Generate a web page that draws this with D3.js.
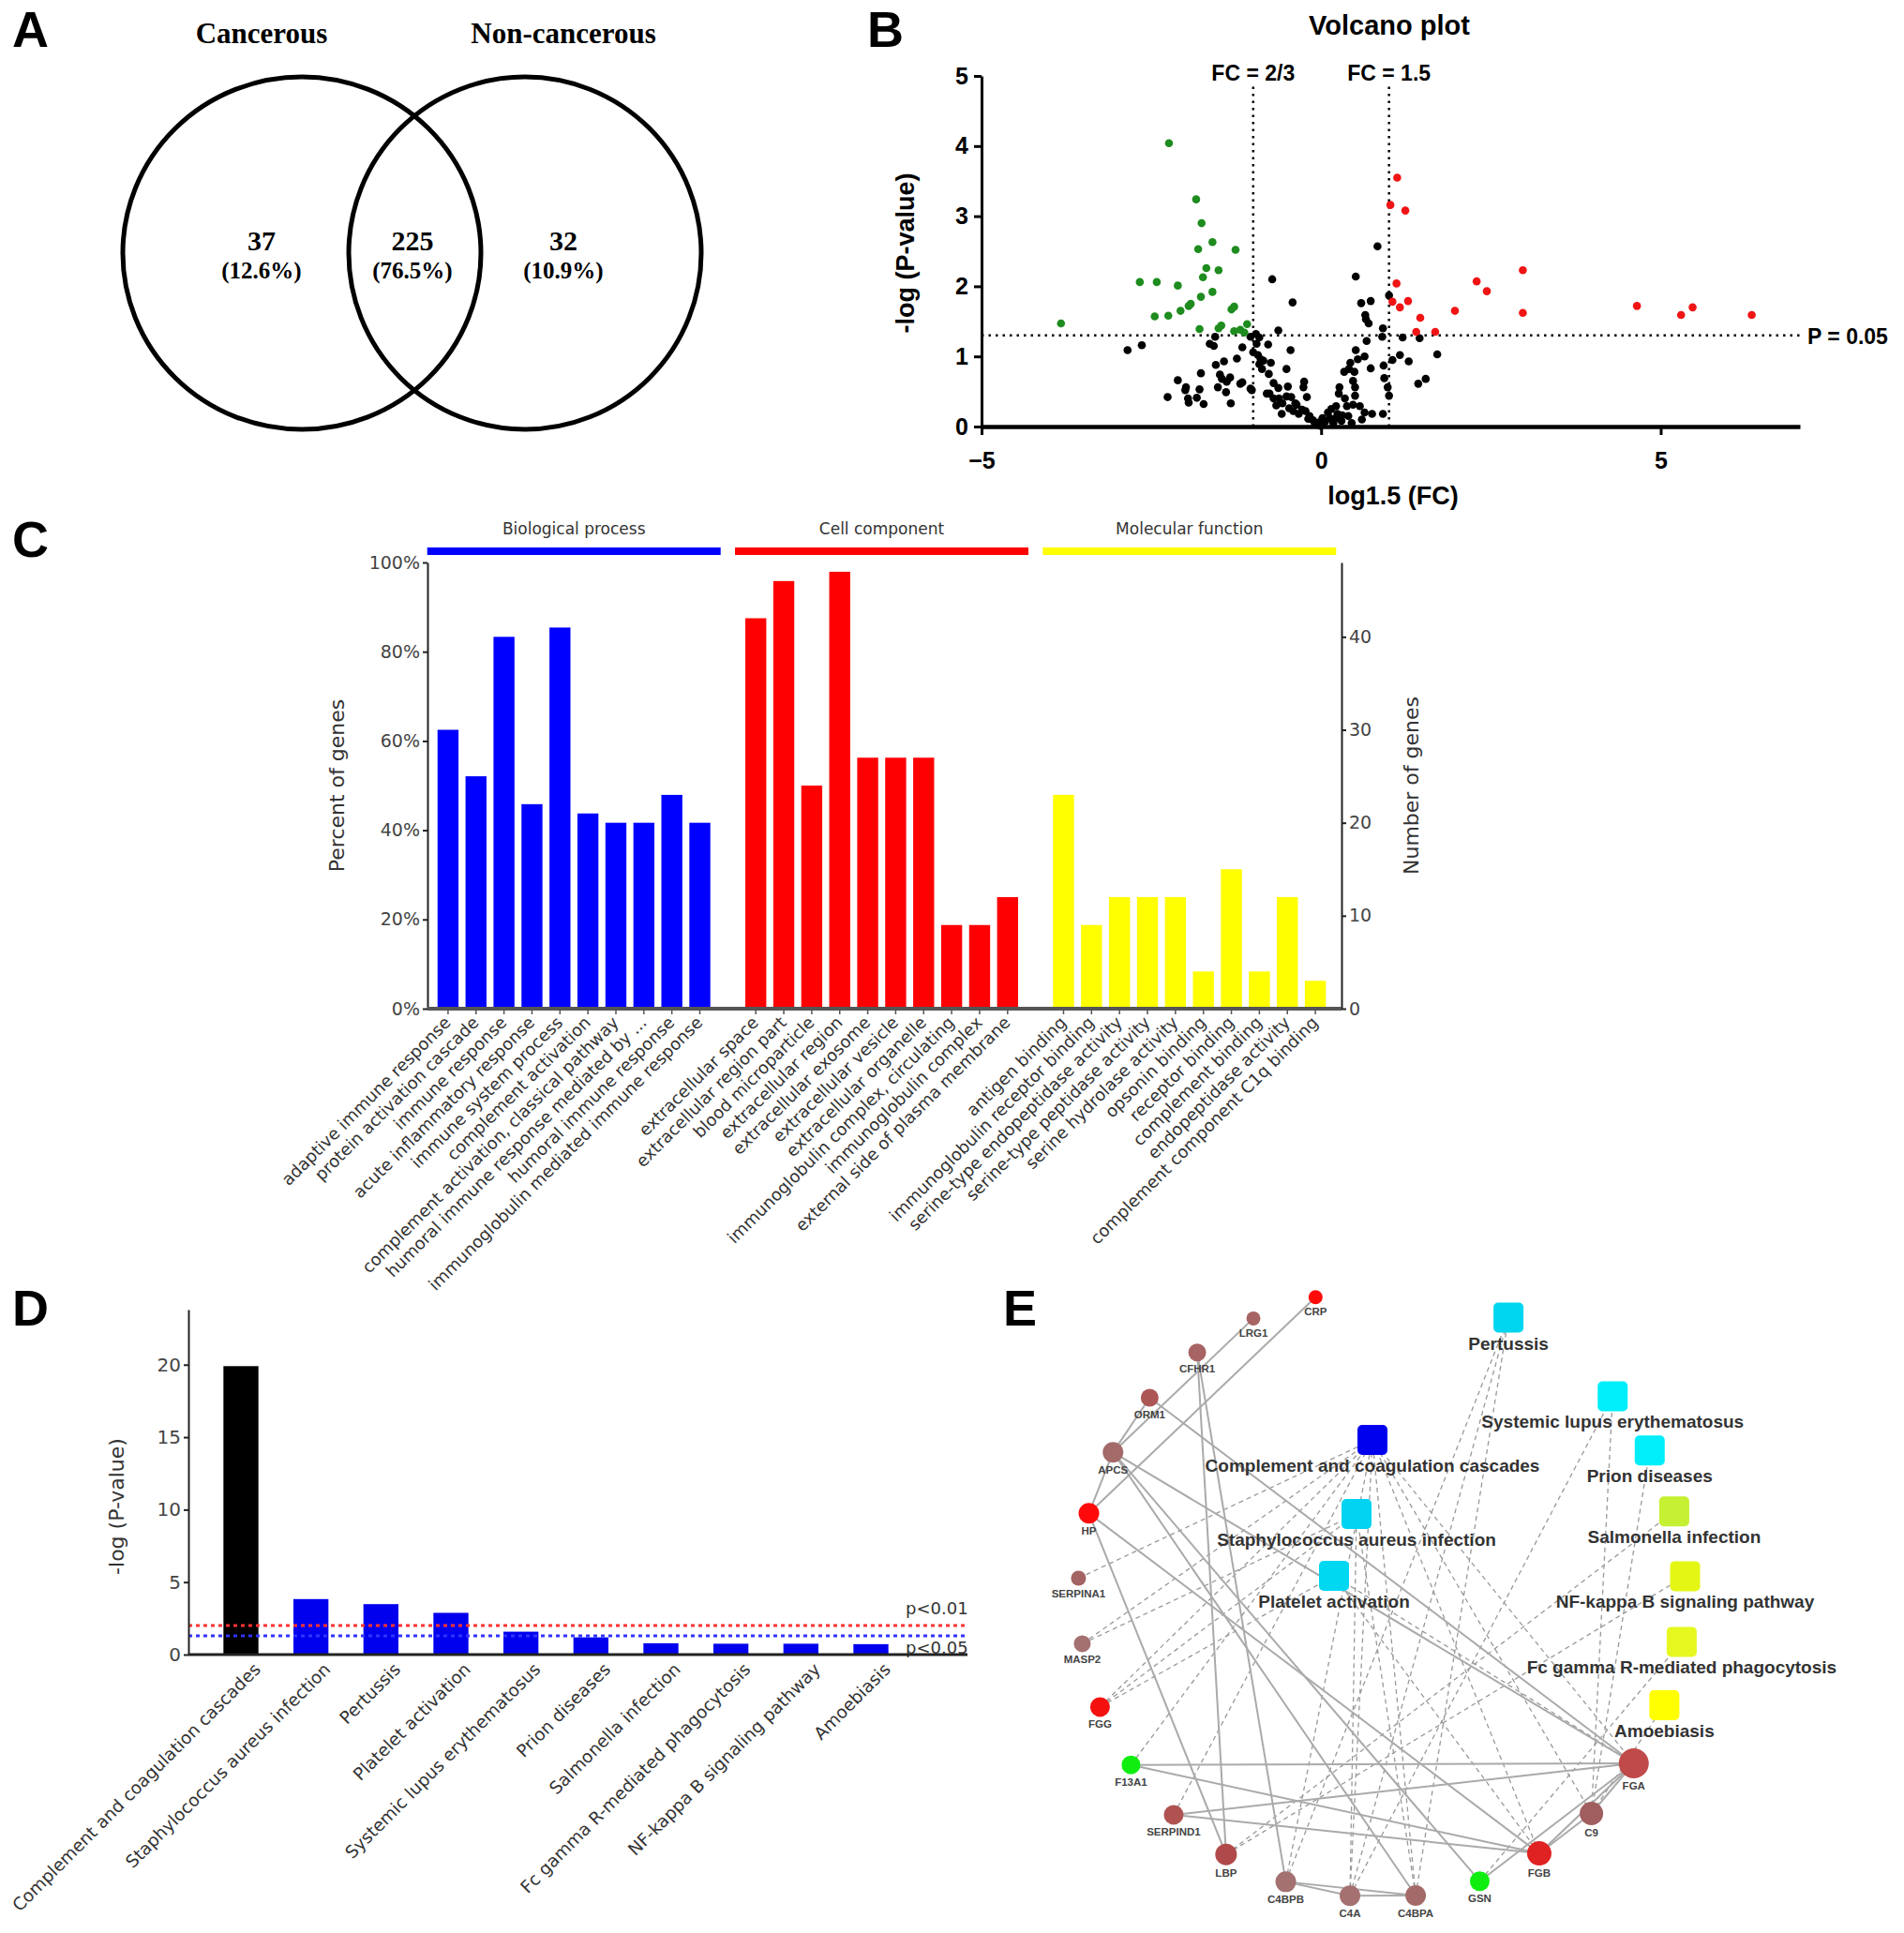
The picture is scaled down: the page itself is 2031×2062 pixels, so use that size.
<!DOCTYPE html>
<html>
<head>
<meta charset="utf-8">
<script src="https://cdn.jsdelivr.net/npm/d3@7/dist/d3.min.js"></script>
<style>
  body { margin: 0; background: #fff; }
  svg { display: block; }
</style>
</head>
<body>
<svg id="fig" width="2031" height="2062"></svg>
<script>
// ---------- data ----------
const vennSets = ['Cancerous', 'Non-cancerous']
const vennCounts = [37, 225, 32]
const vennPercents = ['(12.6%)', '(76.5%)', '(10.9%)']

// volcano plot points [log1.5(FC), -log(P)]
const volcanoDown = [[-2.24, 4.04], [-3.83, 1.47], [-1.84, 3.24], [-1.76, 2.90], [-1.60, 2.63], [-1.81, 2.53],
  [-1.26, 2.52], [-1.69, 2.26], [-1.51, 2.23], [-1.74, 2.13], [-2.67, 2.06], [-2.42, 2.06], [-2.11, 2.01],
  [-1.60, 1.92], [-1.77, 1.85], [-1.92, 1.75], [-1.95, 1.72], [-2.07, 1.65], [-2.25, 1.58], [-2.45, 1.57],
  [-1.28, 1.71], [-1.32, 1.67], [-1.79, 1.39], [-1.51, 1.40], [-1.47, 1.44], [-1.28, 1.36], [-1.19, 1.38],
  [-1.09, 1.46], [-1.13, 1.34]]
const volcanoUp = [[1.12, 3.55], [1.02, 3.16], [1.24, 3.08], [2.97, 2.23], [2.29, 2.07], [2.44, 1.93], [1.11, 2.04],
  [1.05, 1.78], [1.16, 1.70], [1.28, 1.79], [1.46, 1.55], [1.40, 1.35], [1.68, 1.35], [1.97, 1.65], [2.97, 1.62],
  [4.65, 1.72], [5.47, 1.70], [5.30, 1.59], [6.34, 1.59]]
const volcanoOther = [[-0.72, 2.10], [-0.42, 1.77], [-0.63, 1.37], [-2.85, 1.09], [-2.64, 1.16], [-1.56, 1.28],
  [-1.64, 1.18], [-1.58, 1.15], [-0.96, 1.32], [-0.91, 1.27], [-0.78, 1.17], [-1.16, 1.13], [-1.00, 1.06],
  [-0.93, 1.02], [-0.89, 0.96], [-0.91, 0.89], [-0.87, 0.82], [-0.74, 0.91], [-0.45, 1.09], [-0.51, 0.82],
  [-1.24, 0.97], [-1.43, 0.93], [-1.55, 0.88], [-1.77, 0.76], [-1.49, 0.74], [-1.46, 0.68], [-1.39, 0.64],
  [-2.11, 0.66], [-1.52, 0.56], [-1.19, 0.61], [-1.02, 0.52], [-2.00, 0.52], [-1.79, 0.53], [-1.40, 0.49],
  [-2.26, 0.42], [-1.96, 0.40], [-1.83, 0.41], [-1.95, 0.34], [-1.73, 0.32], [-1.33, 0.33], [-0.80, 0.47],
  [-0.76, 0.47], [-0.63, 0.55], [-0.49, 0.57], [-0.25, 0.64], [-0.26, 0.56], [-0.62, 0.40], [-0.51, 0.43],
  [-0.44, 0.42], [-0.66, 0.30], [-0.57, 0.33], [-0.38, 0.33], [-0.47, 0.26], [-0.36, 0.31], [-0.28, 0.24],
  [-0.21, 0.42], [-0.23, 0.22], [-0.17, 0.15], [-0.12, 0.09], [-0.09, 0.03], [-0.03, 0.06], [-0.19, 0.11],
  [-0.33, 0.18], [-0.41, 0.22], [-1.04, 1.28], [-0.95, 1.18], [-0.85, 0.94], [-0.77, 0.75], [-1.99, 0.56],
  [-1.34, 0.70], [-1.16, 0.63], [-1.04, 0.54], [-0.70, 0.40], [-0.58, 0.18], [-0.70, 0.62],
  [0.83, 2.57], [0.51, 2.14], [1.00, 1.87], [0.59, 1.76], [0.73, 1.79], [0.65, 1.59], [0.66, 1.53], [0.70, 1.47],
  [0.91, 1.40], [0.90, 1.28], [1.20, 1.27], [1.45, 1.26], [0.67, 1.22], [1.71, 1.03], [1.16, 1.02], [1.29, 0.93],
  [1.05, 0.95], [0.51, 1.09], [0.64, 1.00], [0.54, 0.96], [0.43, 0.91], [0.41, 0.82], [0.49, 0.78], [0.73, 0.83],
  [0.34, 0.78], [0.92, 0.87], [0.93, 0.69], [1.54, 0.68], [1.43, 0.61], [0.47, 0.65], [0.50, 0.56], [0.27, 0.56],
  [0.26, 0.47], [0.98, 0.56], [1.00, 0.44], [0.50, 0.44], [0.47, 0.31], [0.38, 0.29], [0.57, 0.29], [0.64, 0.20],
  [0.75, 0.18], [0.91, 0.18], [0.22, 0.29], [0.15, 0.25], [0.24, 0.18], [0.13, 0.12], [0.06, 0.07], [-0.01, 0.01],
  [-0.05, 0.05], [0.22, 0.12], [0.31, 0.16], [0.10, 0.20], [0.18, 0.05], [0.30, 0.08], [0.40, 0.15], [0.02, 0.12],
  [0.35, 0.40], [0.60, 0.10], [0.45, 0.05]]
const pThreshold = 1.3
const fcThresholds = [-1, 1]
const fcLabels = ['FC = 2/3', 'FC = 1.5']

// GO enrichment (number of genes, 48 = 100%)
const goGroups = ['Biological process', 'Cell component', 'Molecular function']
const goTerms = [
  ['adaptive immune response', 'protein activation cascade', 'immune response', 'acute inflammatory response',
    'immune system process', 'complement activation', 'complement activation, classical pathway',
    'humoral immune response mediated by ...', 'humoral immune response', 'immunoglobulin mediated immune response'],
  ['extracellular space', 'extracellular region part', 'blood microparticle', 'extracellular region',
    'extracellular exosome', 'extracellular vesicle', 'extracellular organelle',
    'immunoglobulin complex, circulating', 'immunoglobulin complex', 'external side of plasma membrane'],
  ['antigen binding', 'immunoglobulin receptor binding', 'serine-type endopeptidase activity',
    'serine-type peptidase activity', 'serine hydrolase activity', 'opsonin binding', 'receptor binding',
    'complement binding', 'endopeptidase activity', 'complement component C1q binding']
]
const goCounts = [
  [30, 25, 40, 22, 41, 21, 20, 20, 23, 20],
  [42, 46, 24, 47, 27, 27, 27, 9, 9, 12],
  [23, 9, 12, 12, 12, 4, 15, 4, 12, 3]
]
const goTotal = 48

// KEGG pathways
const keggPathways = ['Complement and coagulation cascades', 'Staphylococcus aureus infection', 'Pertussis',
  'Platelet activation', 'Systemic lupus erythematosus', 'Prion diseases', 'Salmonella infection',
  'Fc gamma R-mediated phagocytosis', 'NF-kappa B signaling pathway', 'Amoebiasis']
const keggLogP = [19.9, 3.83, 3.48, 2.88, 1.58, 1.19, 0.78, 0.75, 0.75, 0.72]
const keggCutoffs = [2, 1.3]
const keggCutoffLabels = ['p<0.01', 'p<0.05']

// network
const networkGenes = ['CRP', 'LRG1', 'CFHR1', 'ORM1', 'APCS', 'HP', 'SERPINA1', 'MASP2', 'FGG', 'F13A1',
  'SERPIND1', 'LBP', 'C4BPB', 'C4A', 'C4BPA', 'GSN', 'FGB', 'C9', 'FGA']
const networkRingPathways = ['Amoebiasis', 'Fc gamma R-mediated phagocytosis', 'NF-kappa B signaling pathway',
  'Salmonella infection', 'Prion diseases', 'Systemic lupus erythematosus', null, 'Pertussis', null, null]
const networkInnerPathways = ['Complement and coagulation cascades', 'Staphylococcus aureus infection',
  'Platelet activation']
const ppiEdges = [['CRP', 'HP'], ['LRG1', 'APCS'], ['ORM1', 'APCS'], ['APCS', 'HP'], ['CFHR1', 'LBP'],
  ['CFHR1', 'C4BPB'], ['HP', 'LBP'], ['HP', 'FGB'], ['APCS', 'C4BPA'], ['APCS', 'GSN'], ['APCS', 'FGA'],
  ['ORM1', 'FGA'], ['F13A1', 'FGA'], ['F13A1', 'FGB'], ['SERPIND1', 'FGA'], ['SERPIND1', 'FGB'], ['FGA', 'FGB'],
  ['FGA', 'C9'], ['FGB', 'C9'], ['FGA', 'GSN'], ['C4BPB', 'C4A'], ['C4A', 'C4BPA'], ['C4BPB', 'C4BPA']]
const pathwayEdges = [
  ['SERPINA1', 'Complement and coagulation cascades'], ['MASP2', 'Complement and coagulation cascades'],
  ['FGG', 'Complement and coagulation cascades'], ['F13A1', 'Complement and coagulation cascades'],
  ['SERPIND1', 'Complement and coagulation cascades'], ['C4BPB', 'Complement and coagulation cascades'],
  ['C4A', 'Complement and coagulation cascades'], ['C4BPA', 'Complement and coagulation cascades'],
  ['C9', 'Complement and coagulation cascades'], ['FGA', 'Complement and coagulation cascades'],
  ['FGB', 'Complement and coagulation cascades'],
  ['MASP2', 'Staphylococcus aureus infection'], ['FGG', 'Staphylococcus aureus infection'],
  ['C4A', 'Staphylococcus aureus infection'], ['C4BPA', 'Staphylococcus aureus infection'],
  ['FGG', 'Platelet activation'], ['FGA', 'Platelet activation'], ['FGB', 'Platelet activation'],
  ['C4BPB', 'Pertussis'], ['C4A', 'Pertussis'], ['C4BPA', 'Pertussis'],
  ['C4A', 'Systemic lupus erythematosus'], ['C9', 'Systemic lupus erythematosus'],
  ['C9', 'Prion diseases'], ['LBP', 'Salmonella infection'], ['LBP', 'NF-kappa B signaling pathway'],
  ['GSN', 'Fc gamma R-mediated phagocytosis'], ['C9', 'Amoebiasis']
]

// ---------- styles ----------
const boldSans = 'Liberation Sans, Arial, sans-serif'
const plotSans = 'DejaVu Sans, sans-serif'
const serif = 'Liberation Serif, Times New Roman, serif'

const geneStyle = {
  CRP: ['#ff0a0a', 7.5], LRG1: ['#a86464', 7.5], CFHR1: ['#a86464', 9.5], ORM1: ['#ad5656', 9.5],
  APCS: ['#a46a6a', 11], HP: ['#ff0a0a', 11], SERPINA1: ['#a46464', 8], MASP2: ['#a47070', 9],
  FGG: ['#f51010', 10.5], F13A1: ['#10ee10', 10], SERPIND1: ['#b05252', 10.5], LBP: ['#b04a4a', 11.5],
  C4BPB: ['#a47070', 11], C4A: ['#a47070', 11], C4BPA: ['#a46a6a', 11], GSN: ['#10ee10', 10.5],
  FGB: ['#e02222', 13], C9: ['#a05e5e', 12.5], FGA: ['#c04a4a', 16]
}
const pathwayColor = {
  'Complement and coagulation cascades': '#0000ee', 'Staphylococcus aureus infection': '#00d4f2',
  'Platelet activation': '#00d8f2', Pertussis: '#00d6f0', 'Systemic lupus erythematosus': '#00eefa',
  'Prion diseases': '#00eefa', 'Salmonella infection': '#c6f032', 'NF-kappa B signaling pathway': '#e4f614',
  'Fc gamma R-mediated phagocytosis': '#e6f820', Amoebiasis: '#ffff00'
}

const svg = d3.select('#fig')

/**
 * Draws the panel letters A to E.
 */
function drawPanelLetters () {
  const letters = [['A', 13, 50], ['B', 925, 50], ['C', 13, 594], ['D', 13, 1414], ['E', 1070, 1414]]
  svg.append('g').selectAll('text')
    .data(letters)
    .join('text')
    .attr('x', d => d[1]).attr('y', d => d[2])
    .attr('font-family', boldSans).attr('font-weight', 'bold').attr('font-size', 54)
    .text(d => d[0])
}

/**
 * Panel A : two-set Venn diagram.
 */
function drawVenn () {
  const g = svg.append('g')
  const circles = [{ cx: 322, rx: 191 }, { cx: 560, rx: 188 }]
  const textX = [279, 440, 601]

  g.selectAll('ellipse')
    .data(circles)
    .join('ellipse')
    .attr('cx', d => d.cx).attr('cy', 270)
    .attr('rx', d => d.rx).attr('ry', 188)
    .attr('fill', 'none').attr('stroke', '#000').attr('stroke-width', 5)

  g.selectAll('.set-title')
    .data(vennSets)
    .join('text')
    .attr('class', 'set-title')
    .attr('x', (d, i) => textX[i * 2]).attr('y', 46)
    .attr('text-anchor', 'middle')
    .attr('font-family', serif).attr('font-weight', 'bold').attr('font-size', 31)
    .text(d => d)

  g.selectAll('.count')
    .data(vennCounts)
    .join('text')
    .attr('class', 'count')
    .attr('x', (d, i) => textX[i]).attr('y', 267)
    .attr('text-anchor', 'middle')
    .attr('font-family', serif).attr('font-weight', 'bold').attr('font-size', 30)
    .text(d => d)

  g.selectAll('.percent')
    .data(vennPercents)
    .join('text')
    .attr('class', 'percent')
    .attr('x', (d, i) => textX[i]).attr('y', 297)
    .attr('text-anchor', 'middle')
    .attr('font-family', serif).attr('font-weight', 'bold').attr('font-size', 25)
    .text(d => d)
}

/**
 * Panel B : volcano plot.
 */
function drawVolcano () {
  const g = svg.append('g')
  const x = d3.scaleLinear().domain([-5, 7.05]).range([1047, 1920])
  const y = d3.scaleLinear().domain([0, 5]).range([455, 81])

  // Title and axis labels
  g.append('text').attr('x', 1482).attr('y', 37).attr('text-anchor', 'middle')
    .attr('font-family', boldSans).attr('font-weight', 'bold').attr('font-size', 29)
    .text('Volcano plot')
  g.append('text').attr('x', 1486).attr('y', 538).attr('text-anchor', 'middle')
    .attr('font-family', boldSans).attr('font-weight', 'bold').attr('font-size', 27)
    .text('log1.5 (FC)')
  g.append('text').attr('transform', 'translate(975,270) rotate(-90)').attr('text-anchor', 'middle')
    .attr('font-family', boldSans).attr('font-weight', 'bold').attr('font-size', 27)
    .text('-log (P-value)')

  // Threshold lines
  g.append('line')
    .attr('x1', x(-5)).attr('x2', x(7.05)).attr('y1', y(pThreshold)).attr('y2', y(pThreshold))
    .attr('stroke', '#000').attr('stroke-width', 2.5).attr('stroke-dasharray', '2.5,5')
  g.selectAll('.fc-line')
    .data(fcThresholds)
    .join('line')
    .attr('class', 'fc-line')
    .attr('x1', d => x(d)).attr('x2', d => x(d)).attr('y1', y(0)).attr('y2', y(4.9))
    .attr('stroke', '#000').attr('stroke-width', 2.5).attr('stroke-dasharray', '2.5,5')
  g.selectAll('.fc-label')
    .data(fcLabels)
    .join('text')
    .attr('class', 'fc-label')
    .attr('x', (d, i) => x(fcThresholds[i])).attr('y', 86)
    .attr('text-anchor', 'middle')
    .attr('font-family', boldSans).attr('font-weight', 'bold').attr('font-size', 23)
    .text(d => d)
  g.append('text').attr('x', 1928).attr('y', y(pThreshold) + 9)
    .attr('font-family', boldSans).attr('font-weight', 'bold').attr('font-size', 23)
    .text('P = 0.05')

  // Axes
  const xAxis = g.append('g').attr('transform', 'translate(0,455)')
    .call(d3.axisBottom(x).tickValues([-5, 0, 5]).tickSize(9).tickSizeOuter(0).tickPadding(18))
  xAxis.select('.domain').attr('stroke-width', 4.5)
  const yAxis = g.append('g').attr('transform', 'translate(' + x(-5) + ',0)')
    .call(d3.axisLeft(y).tickValues([0, 1, 2, 3, 4, 5]).tickFormat(d3.format('d'))
      .tickSize(8).tickSizeOuter(0).tickPadding(6))
  yAxis.select('.domain').attr('stroke-width', 3)
  g.selectAll('.tick line').attr('stroke-width', 3)
  g.selectAll('.tick text')
    .attr('font-family', boldSans).attr('font-weight', 'bold').attr('font-size', 25)

  // Points
  const groups = [[volcanoOther, '#000'], [volcanoDown, '#1e8c1e'], [volcanoUp, '#f01414']]
  groups.forEach(([points, color]) => {
    g.append('g').selectAll('circle')
      .data(points)
      .join('circle')
      .attr('cx', d => x(d[0])).attr('cy', d => y(d[1]))
      .attr('r', 4.3).attr('fill', color)
  })
}

/**
 * Panel C : GO term bar chart with percent and count axes.
 */
function drawGoBars () {
  const g = svg.append('g')
  const keys = []
  const bars = []
  goTerms.forEach((terms, gi) => {
    terms.forEach((t, ti) => {
      keys.push(t)
      bars.push({ term: t, group: gi, count: goCounts[gi][ti] })
    })
    if (gi < goTerms.length - 1) keys.push('gap' + gi)
  })
  const colors = ['#0000ff', '#ff0000', '#ffff00']

  const x = d3.scaleBand().domain(keys).range([463, 1418]).paddingInner(0.25).paddingOuter(0.125)
  const yCount = d3.scaleLinear().domain([0, goTotal]).range([1076, 600])
  const yPct = d3.scaleLinear().domain([0, 1]).range([1076, 600])

  // Group headers
  goGroups.forEach((name, gi) => {
    const first = x(goTerms[gi][0]) - 11
    const last = x(goTerms[gi][goTerms[gi].length - 1]) + x.bandwidth() + 11
    g.append('line').attr('x1', first).attr('x2', last).attr('y1', 588).attr('y2', 588)
      .attr('stroke', colors[gi]).attr('stroke-width', 8)
    g.append('text').attr('x', (first + last) / 2).attr('y', 570).attr('text-anchor', 'middle')
      .attr('font-family', plotSans).attr('font-size', 17).attr('fill', '#333')
      .text(name)
  })

  // Bars
  g.append('g').selectAll('rect')
    .data(bars)
    .join('rect')
    .attr('x', d => x(d.term)).attr('width', x.bandwidth())
    .attr('y', d => yCount(d.count)).attr('height', d => yCount(0) - yCount(d.count))
    .attr('fill', d => colors[d.group])

  // Axes
  const left = g.append('g').attr('transform', 'translate(456,0)')
    .call(d3.axisLeft(yPct).tickValues([0, 0.2, 0.4, 0.6, 0.8, 1]).tickFormat(d3.format('.0%'))
      .tickSize(5).tickSizeOuter(0).tickPadding(3))
  const right = g.append('g').attr('transform', 'translate(1431,0)')
    .call(d3.axisRight(yCount).tickValues([0, 10, 20, 30, 40]).tickSize(5).tickSizeOuter(0).tickPadding(3))
  ;[left, right].forEach(a => {
    a.select('.domain').attr('stroke', '#222').attr('stroke-width', 2)
    a.selectAll('.tick line').attr('stroke', '#222').attr('stroke-width', 2)
    a.selectAll('.tick text').attr('font-family', plotSans).attr('font-size', 19).attr('fill', '#444')
  })
  g.append('line').attr('x1', 456).attr('x2', 1431).attr('y1', 1076).attr('y2', 1076)
    .attr('stroke', '#555').attr('stroke-width', 4)
  g.append('g').selectAll('line')
    .data(bars)
    .join('line')
    .attr('x1', d => x(d.term) + x.bandwidth() / 2).attr('x2', d => x(d.term) + x.bandwidth() / 2)
    .attr('y1', 1076).attr('y2', 1082).attr('stroke', '#555').attr('stroke-width', 1.5)

  // Axis titles
  g.append('text').attr('transform', 'translate(367,838) rotate(-90)').attr('text-anchor', 'middle')
    .attr('font-family', plotSans).attr('font-size', 22).attr('fill', '#333')
    .text('Percent of genes')
  g.append('text').attr('transform', 'translate(1513,838) rotate(-90)').attr('text-anchor', 'middle')
    .attr('font-family', plotSans).attr('font-size', 22).attr('fill', '#333')
    .text('Number of genes')

  // Rotated term labels
  g.append('g').selectAll('text')
    .data(bars)
    .join('text')
    .attr('transform', d => 'translate(' + (x(d.term) + x.bandwidth() / 2 + 4) + ',1092) rotate(-45)')
    .attr('text-anchor', 'end')
    .attr('font-family', plotSans).attr('font-size', 18).attr('fill', '#333')
    .text(d => d.term)
}

/**
 * Panel D : KEGG pathway enrichment bars.
 */
function drawKeggBars () {
  const g = svg.append('g')
  const x = d3.scaleBand().domain(keggPathways).range([201, 985]).paddingInner(0.5).paddingOuter(0.5)
  const y = d3.scaleLinear().domain([0, 23.8]).range([1765, 1397])

  g.append('g').selectAll('rect')
    .data(keggPathways)
    .join('rect')
    .attr('x', d => x(d)).attr('width', x.bandwidth())
    .attr('y', (d, i) => y(keggLogP[i])).attr('height', (d, i) => y(0) - y(keggLogP[i]))
    .attr('fill', (d, i) => i === 0 ? '#000' : '#0000ee')

  const cutColors = ['#ff3333', '#3333ff']
  g.selectAll('.cut')
    .data(keggCutoffs)
    .join('line')
    .attr('class', 'cut')
    .attr('x1', 201).attr('x2', 1032).attr('y1', d => y(d)).attr('y2', d => y(d))
    .attr('stroke', (d, i) => cutColors[i]).attr('stroke-width', 3).attr('stroke-dasharray', '4,4')
  g.selectAll('.cut-label')
    .data(keggCutoffLabels)
    .join('text')
    .attr('class', 'cut-label')
    .attr('x', 966).attr('y', (d, i) => [1722, 1764][i])
    .attr('font-family', plotSans).attr('font-size', 18).attr('fill', '#333')
    .text(d => d)

  const axis = g.append('g').attr('transform', 'translate(201,0)')
    .call(d3.axisLeft(y).tickValues([0, 5, 10, 15, 20]).tickSize(5).tickSizeOuter(0).tickPadding(3))
  axis.select('.domain').attr('stroke', '#222').attr('stroke-width', 2)
  axis.selectAll('.tick line').attr('stroke', '#222').attr('stroke-width', 2)
  axis.selectAll('.tick text').attr('font-family', plotSans).attr('font-size', 20).attr('fill', '#444')
  g.append('line').attr('x1', 201).attr('x2', 1032).attr('y1', 1765).attr('y2', 1765)
    .attr('stroke', '#222').attr('stroke-width', 3)

  g.append('text').attr('transform', 'translate(132,1607) rotate(-90)').attr('text-anchor', 'middle')
    .attr('font-family', plotSans).attr('font-size', 22).attr('fill', '#333')
    .text('-log (P-value)')

  g.append('g').selectAll('text')
    .data(keggPathways)
    .join('text')
    .attr('transform', d => 'translate(' + (x(d) + x.bandwidth() / 2 + 22) + ',1782) rotate(-45)')
    .attr('text-anchor', 'end')
    .attr('font-family', plotSans).attr('font-size', 18.5).attr('fill', '#333')
    .text(d => d)
}

/**
 * Panel E : gene / pathway network on a circular layout.
 */
function drawNetwork () {
  const g = svg.append('g')
  const center = [1474, 1700]
  const radius = 324
  const ring = networkGenes.concat(networkRingPathways)
  const angle = d3.scaleLinear().domain([0, ring.length]).range([-102.6, -462.6])
  const innerOffsets = [[-10, -164], [-27, -85], [-51, -19]]

  const pos = {}
  ring.forEach((name, i) => {
    if (!name) return
    const a = angle(i) * Math.PI / 180
    pos[name] = [center[0] + radius * Math.cos(a), center[1] + radius * Math.sin(a)]
  })
  networkInnerPathways.forEach((name, i) => {
    pos[name] = [center[0] + innerOffsets[i][0], center[1] + innerOffsets[i][1]]
  })

  // Edges
  g.append('g').selectAll('line')
    .data(pathwayEdges)
    .join('line')
    .attr('x1', d => pos[d[0]][0]).attr('y1', d => pos[d[0]][1])
    .attr('x2', d => pos[d[1]][0]).attr('y2', d => pos[d[1]][1])
    .attr('stroke', '#999').attr('stroke-width', 1.3).attr('stroke-dasharray', '5,4')
  g.append('g').selectAll('line')
    .data(ppiEdges)
    .join('line')
    .attr('x1', d => pos[d[0]][0]).attr('y1', d => pos[d[0]][1])
    .attr('x2', d => pos[d[1]][0]).attr('y2', d => pos[d[1]][1])
    .attr('stroke', '#aaa').attr('stroke-width', 2)

  // Gene nodes
  g.append('g').selectAll('circle')
    .data(networkGenes)
    .join('circle')
    .attr('cx', d => pos[d][0]).attr('cy', d => pos[d][1])
    .attr('r', d => geneStyle[d][1]).attr('fill', d => geneStyle[d][0])
  g.append('g').selectAll('text')
    .data(networkGenes)
    .join('text')
    .attr('x', d => pos[d][0]).attr('y', d => pos[d][1] + geneStyle[d][1] + 12)
    .attr('text-anchor', 'middle')
    .attr('font-family', boldSans).attr('font-weight', 'bold').attr('font-size', 11.5).attr('fill', '#444')
    .text(d => d)

  // Pathway nodes
  const pathways = Object.keys(pathwayColor)
  g.append('g').selectAll('rect')
    .data(pathways)
    .join('rect')
    .attr('x', d => pos[d][0] - 16).attr('y', d => pos[d][1] - 16)
    .attr('width', 32).attr('height', 32).attr('rx', 5)
    .attr('fill', d => pathwayColor[d])
  g.append('g').selectAll('text')
    .data(pathways)
    .join('text')
    .attr('x', d => pos[d][0]).attr('y', d => pos[d][1] + 34)
    .attr('text-anchor', 'middle')
    .attr('font-family', boldSans).attr('font-weight', 'bold').attr('font-size', 19).attr('fill', '#333')
    .text(d => d)
}

drawPanelLetters()
drawVenn()
drawVolcano()
drawGoBars()
drawKeggBars()
drawNetwork()
</script>
</body>
</html>
